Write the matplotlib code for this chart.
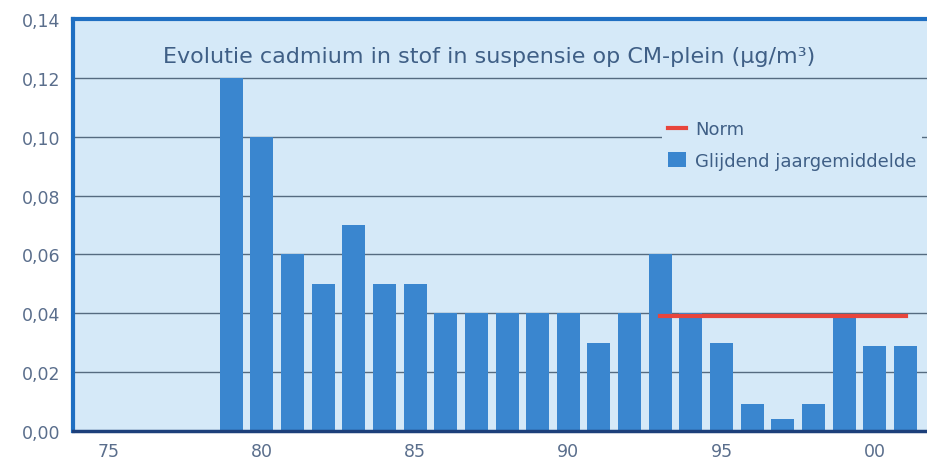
import matplotlib
matplotlib.use("Agg")
import matplotlib.pyplot as plt
import numpy as np

# jaren (2-cijferig, 100 = 2000)
years = [79, 80, 81, 82, 83, 84, 85, 86, 87, 88, 89, 90, 91, 92, 93, 94, 95, 96, 97, 98, 99, 100, 101]
cadmium = [0.12, 0.10, 0.06, 0.05, 0.07, 0.05, 0.05, 0.04, 0.04, 0.04, 0.04, 0.04, 0.03, 0.04,
           0.06, 0.04, 0.03, 0.009, 0.004, 0.009, 0.039, 0.029, 0.029]
norm_years = [93, 101]
norm_value = [0.039, 0.039]
xtick_pos = [75, 80, 85, 90, 95, 100]
xtick_labels = ["75", "80", "85", "90", "95", "00"]
ytick_pos = [0.0, 0.02, 0.04, 0.06, 0.08, 0.10, 0.12, 0.14]

plt.rcParams['font.family'] = ['DejaVu Sans']

bg = '#d5e9f8'
bar_col = '#3a86cf'
txt_col = '#5a6e8c'

fig = plt.figure(figsize=(9.27, 4.64), dpi=100)
ax = fig.add_axes([0.079, 0.069, 0.921, 0.888])
ax.set_facecolor(bg)

ax.plot(norm_years, norm_value, color='#e8453c', lw=3, zorder=3, label='Norm')
ax.bar(years, cadmium, width=0.75, color=bar_col, zorder=2, label='Glijdend jaargemiddelde')

ax.set_xlim(73.85, 101.7)
ax.set_ylim(0, 0.14)
ax.set_yticks(ytick_pos)
ax.set_yticklabels([f"{v:.2f}".replace('.', ',') for v in ytick_pos])
ax.set_xticks(xtick_pos)
ax.set_xticklabels(xtick_labels)
ax.tick_params(length=0, labelsize=12.5, colors=txt_col)
ax.tick_params(axis='y', pad=9.5)
ax.tick_params(axis='x', pad=8)
ax.yaxis.grid(True, color='#556b80', lw=1, zorder=1)
ax.set_axisbelow(True)

for s in ['left', 'top']:
    ax.spines[s].set_color('#1f6fc2')
    ax.spines[s].set_linewidth(3)
ax.spines['bottom'].set_color('#1c3f7a')
ax.spines['bottom'].set_linewidth(2.5)
ax.spines['right'].set_visible(False)

ax.text(0.105, 0.91, "Evolutie cadmium in stof in suspensie op CM-plein (\u00b5g/m\u00b3)",
        transform=ax.transAxes, fontsize=16, color='#3f5f86', va='center')

leg = ax.legend(loc='upper left', bbox_to_anchor=(0.69, 0.767),
                frameon=True, facecolor=bg, edgecolor='none', framealpha=1,
                fontsize=13, handlelength=1.0, handleheight=0.9, handletextpad=0.5,
                labelspacing=0.75, borderpad=0.3, borderaxespad=0)
for t in leg.get_texts():
    t.set_color('#3f5f86')

plt.savefig('out.png', dpi=100)
